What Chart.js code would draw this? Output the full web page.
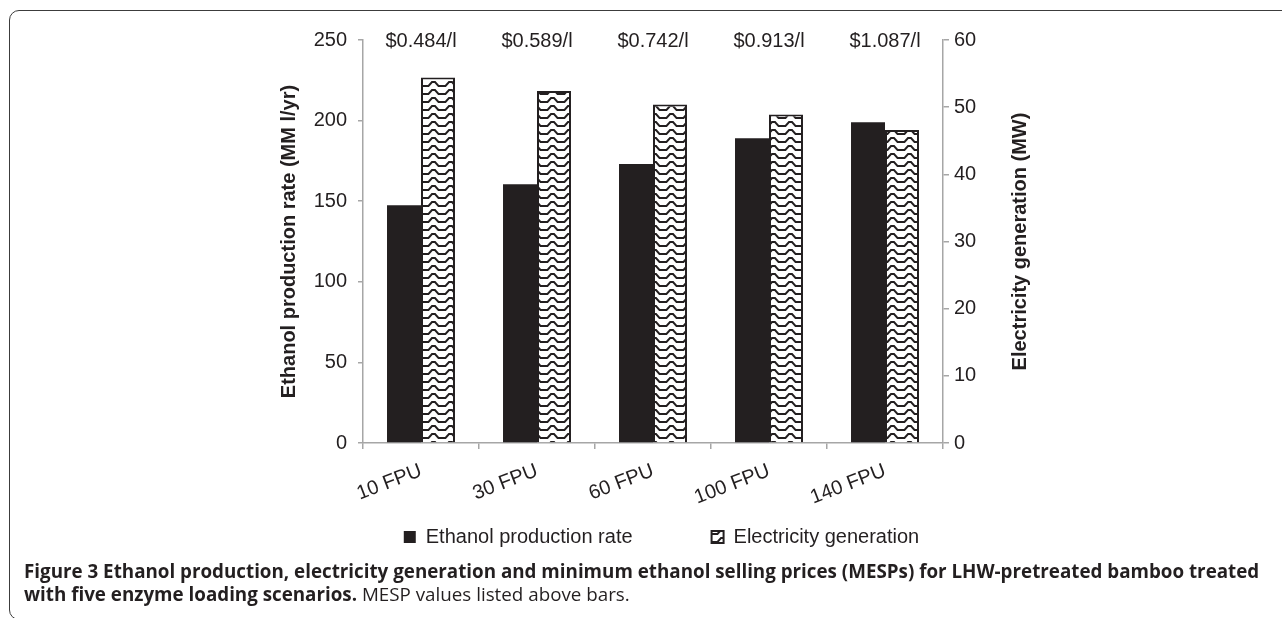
<!DOCTYPE html>
<html><head><meta charset="utf-8">
<script src="https://cdn.jsdelivr.net/npm/chart.js@4.4.1/dist/chart.umd.min.js"></script>
<style>
html,body{margin:0;padding:0;background:#fff;width:1282px;height:618px;overflow:hidden;}
#frame{position:absolute;left:9px;top:10px;width:1400px;height:610px;border:1.5px solid #3c3c3c;border-radius:10px;box-sizing:border-box;}
#c{position:absolute;left:0;top:0;}
#cap{position:absolute;left:24px;top:560px;font-family:"Open Sans",sans-serif;font-size:18.8px;line-height:23px;color:#231f20;white-space:nowrap;}
#cap b{font-weight:700;}
</style></head><body>
<div id="frame"></div>
<canvas id="c" width="1282" height="560"></canvas>
<div id="cap"><b>Figure 3 Ethanol production, electricity generation and minimum ethanol selling prices (MESPs) for LHW-pretreated bamboo treated</b><br><b>with five enzyme loading scenarios.</b> MESP values listed above bars.</div>
<script>
const categories = ['10 FPU', '30 FPU', '60 FPU', '100 FPU', '140 FPU'];
const ethanolRate = [147.5, 160.5, 173, 189, 199];
const electricityGen = [54.4, 52.4, 50.4, 48.9, 46.6];
const mespLabels = ['$0.484/l', '$0.589/l', '$0.742/l', '$0.913/l', '$1.087/l'];
const leftTicks = [0, 50, 100, 150, 200, 250];
const rightTicks = [0, 10, 20, 30, 40, 50, 60];

const INK = '#231f20';
const AXIS = '#a6a6a6';
const FONT = "'Liberation Sans', Arial, sans-serif";

function makePattern() {
  const p = document.createElement('canvas');
  p.width = 17; p.height = 8;
  const g = p.getContext('2d');
  g.fillStyle = '#fff';
  g.fillRect(0, 0, 17, 8);
  g.strokeStyle = INK;
  g.lineWidth = 1.9;
  g.beginPath();
  g.moveTo(0, 6); g.lineTo(3.5, 6); g.lineTo(7, 2); g.lineTo(10, 2); g.lineTo(13.5, 6); g.lineTo(17, 6);
  g.stroke();
  return document.getElementById('c').getContext('2d').createPattern(p, 'repeat');
}

Chart.defaults.font.family = FONT;
Chart.defaults.font.size = 20;
Chart.defaults.color = INK;

const overlay = {
  id: 'overlay',
  afterDraw(chart) {
    const ctx = chart.ctx;
    const xs = chart.scales.x;
    const ca = chart.chartArea;
    ctx.save();
    ctx.fillStyle = INK;
    ctx.font = '20px ' + FONT;
    ctx.textAlign = 'center';
    ctx.textBaseline = 'middle';
    mespLabels.forEach((t, i) => {
      ctx.fillText(t, xs.getPixelForValue(i), ca.top + 1);
    });
    const s = chart.scales.y1;
    ctx.translate(s.left + 77, (ca.top + ca.bottom) / 2);
    ctx.rotate(-Math.PI / 2);
    ctx.font = 'bold 20px ' + FONT;
    ctx.fillText('Electricity generation (MW)', 0, 0);
    ctx.restore();
  }
};

new Chart(document.getElementById('c'), {
  type: 'bar',
  data: {
    labels: categories,
    datasets: [
      {
        label: 'Ethanol production rate',
        data: ethanolRate,
        yAxisID: 'y',
        backgroundColor: INK,
        borderColor: INK,
        borderWidth: 0,
        categoryPercentage: 0.586,
        barPercentage: 1
      },
      {
        label: 'Electricity generation',
        data: electricityGen,
        yAxisID: 'y1',
        backgroundColor: makePattern(),
        borderColor: INK,
        borderWidth: 2,
        categoryPercentage: 0.586,
        barPercentage: 1
      }
    ]
  },
  options: {
    responsive: false,
    animation: false,
    layout: { padding: { left: 273, right: 232, top: 40, bottom: 3 } },
    plugins: {
      tooltip: { enabled: false },
      legend: {
        position: 'bottom',
        labels: { boxWidth: 12, boxHeight: 12, padding: 79, color: INK, font: { size: 20 } }
      }
    },
    scales: {
      x: {
        grid: { display: true, drawOnChartArea: false, drawTicks: true, tickLength: 6, color: AXIS, lineWidth: 1.5, offset: true },
        border: { color: AXIS, width: 1.5 },
        ticks: { minRotation: 21, maxRotation: 21, padding: 10, color: INK, font: { size: 20 } },
        afterFit: s => { s.height = 5; s._computeLabelArea = () => undefined; }
      },
      y: {
        position: 'left',
        min: 0, max: 250,
        afterBuildTicks: s => { s.ticks = leftTicks.map(v => ({ value: v })); },
        grid: { display: true, drawOnChartArea: false, drawTicks: true, tickLength: 5, color: AXIS, lineWidth: 1.5 },
        border: { color: AXIS, width: 1.5 },
        ticks: { padding: 11, color: INK, font: { size: 20 } },
        title: { display: true, text: 'Ethanol production rate (MM l/yr)', color: INK, font: { size: 20, weight: 'bold' }, padding: { top: 4, bottom: 0 } },
        afterFit: s => { s.width = 90; }
      },
      y1: {
        position: 'right',
        min: 0, max: 60,
        afterBuildTicks: s => { s.ticks = rightTicks.map(v => ({ value: v })); },
        grid: { display: true, drawOnChartArea: false, drawTicks: true, tickLength: 6, color: AXIS, lineWidth: 1.5 },
        border: { color: AXIS, width: 1.5 },
        ticks: { padding: 5, color: INK, font: { size: 20 } },
        afterFit: s => { s.width = 107; }
      }
    }
  },
  plugins: [overlay]
});
</script>
</body></html>
